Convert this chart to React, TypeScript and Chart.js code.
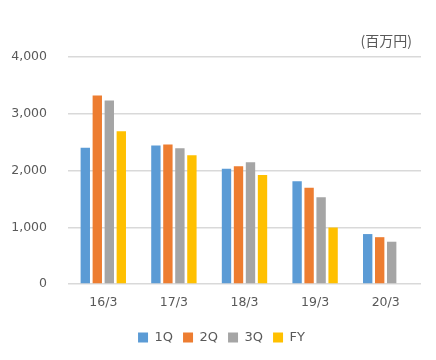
import React, { useEffect, useRef } from "react";
import { Chart, registerables } from "chart.js";

Chart.register(...registerables);

const categories = ["16/3", "17/3", "18/3", "19/3", "20/3"];
const q1 = [2400, 2440, 2030, 1810, 880];
const q2 = [3320, 2460, 2075, 1695, 825];
const q3 = [3235, 2390, 2145, 1530, 745];
const fy = [2690, 2270, 1920, 995, null];
const seriesNames = ["1Q", "2Q", "3Q", "FY"];
const unitLabel = "(百万円)";

const colors = ["#5B9BD5", "#ED7D31", "#A5A5A5", "#FFC000"];

const unitPlugin = {
  id: "unitLabel",
  afterLayout(chart: any) {
    if (chart.legend) {
      chart.legend.left += 8;
      chart.legend.right += 8;
    }
  },
  afterDraw(chart: any) {
    const { ctx, chartArea } = chart;
    ctx.save();
    ctx.font = '14px "Noto Sans CJK JP"';
    ctx.fillStyle = "#595959";
    ctx.textAlign = "right";
    ctx.textBaseline = "middle";
    ctx.fillText(unitLabel, chartArea.right - 9, chartArea.top - 16);
    ctx.restore();
  },
};

export default function App() {
  const ref = useRef<HTMLCanvasElement>(null);
  useEffect(() => {
    document.body.style.margin = "0";
    const data = [q1, q2, q3, fy];
    const chart = new Chart(ref.current!, {
      type: "bar",
      data: {
        labels: categories,
        datasets: seriesNames.map((n, i) => ({
          label: n,
          data: data[i] as any,
          backgroundColor: colors[i],
          categoryPercentage: 0.68,
          barPercentage: 0.78,
        })),
      },
      options: {
        animation: false,
        responsive: false,
        layout: { padding: { top: 57, right: 15, left: 6, bottom: 6 } },
        scales: {
          x: {
            grid: { display: false },
            border: { display: false },
            afterFit: (s: any) => {
              s.height += 8;
            },
            ticks: {
              color: "#595959",
              font: { family: "DejaVu Sans", size: 12.5 },
              padding: 3,
            },
          },
          y: {
            min: 0,
            max: 4000,
            afterFit: (s: any) => {
              s.width = 62;
            },
            ticks: {
              stepSize: 1000,
              color: "#595959",
              font: { family: "DejaVu Sans", size: 12.5 },
              padding: 21,
              callback: (v: any) => Number(v).toLocaleString("en-US"),
            },
            grid: { color: "#D9D9D9", lineWidth: 1.5, drawTicks: false },
            border: { display: false },
          },
        },
        plugins: {
          legend: {
            position: "bottom",
            labels: {
              boxWidth: 10,
              boxHeight: 10,
              color: "#595959",
              font: { family: "DejaVu Sans", size: 13 },
              padding: 10,
            },
          },
          tooltip: { enabled: false },
        },
      },
      plugins: [unitPlugin],
    });
    return () => chart.destroy();
  }, []);
  return (
    <div style={{ width: 436, height: 360, background: "#fff" }}>
      <canvas ref={ref} width={436} height={360} />
    </div>
  );
}
